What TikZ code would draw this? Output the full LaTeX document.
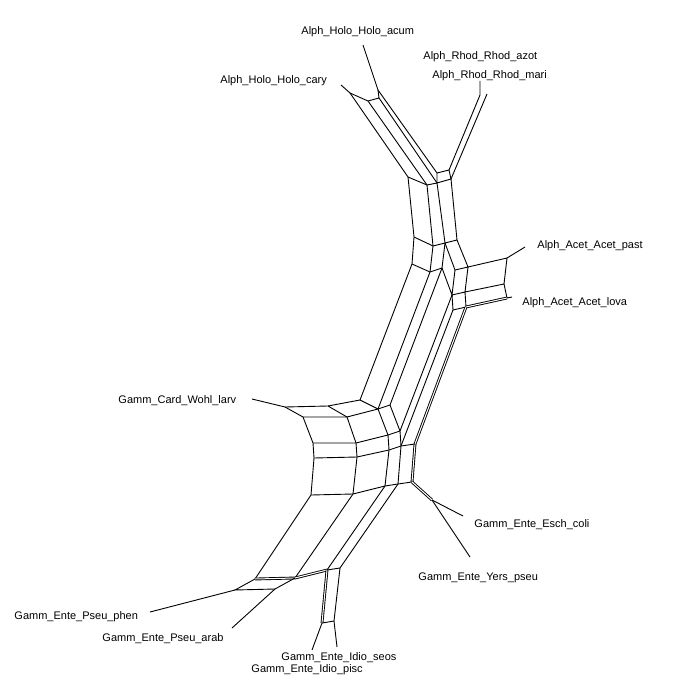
\documentclass[tikz,border=0pt]{standalone}
\usepackage{fontspec}
\setmainfont{Liberation Sans}
\usepackage{tikz}
\tikzset{>=latex}

\begin{document}
\begin{tikzpicture}[x=1pt,y=-1pt,line width=.9pt]
      \tikzstyle{taxon}=[anchor=base west,inner sep=0pt,font=\fontsize{11}{13}\selectfont];
      \tikzstyle{thinsplit}=[double,double distance=1pt];
      \useasboundingbox (0,0) rectangle (676,700);
      % holo box at the top
      \coordinate (t0) at (350,93);  \coordinate (t1) at (368,101);
      \coordinate (t2) at (379,98);  \coordinate (t3) at (378,90);
      \coordinate (a1) at (408,177); \coordinate (a2) at (427,185);
      \coordinate (a3) at (437,183); \coordinate (a4) at (437,173);
      \coordinate (a5) at (449,170); \coordinate (a6) at (451,179);
      \coordinate (r1) at (480,95);
      \coordinate (b1) at (414,237); \coordinate (b2) at (433,246);
      \coordinate (b3) at (445,243); \coordinate (b4) at (457,240);
      \coordinate (c1) at (412,264); \coordinate (c2) at (430,272);
      \coordinate (c3) at (442,268); \coordinate (c4) at (455,270);
      \coordinate (c5) at (468,267);
      \coordinate (d1) at (452,295); \coordinate (d2) at (465,292);
      \coordinate (f1) at (453,310); \coordinate (e1) at (466,307);
      \coordinate (ac1) at (507,258); \coordinate (ac2) at (504,284);
      \coordinate (ac3) at (507,298);
      % wohl box
      \coordinate (w1) at (285,407); \coordinate (w2) at (303,417);
      \coordinate (w3) at (328,406); \coordinate (w4) at (347,417);
      \coordinate (w5) at (360,400); \coordinate (w6) at (378,409);
      \coordinate (x1) at (390,405);
      \coordinate (y1) at (313,443); \coordinate (y2) at (356,443);
      \coordinate (y3) at (388,435); \coordinate (y4) at (400,431);
      \coordinate (z1) at (314,458); \coordinate (z2) at (357,457);
      \coordinate (z3) at (389,450); \coordinate (z4) at (401,446);
      \coordinate (z5) at (415,444);
      \coordinate (v1) at (311,495); \coordinate (v2) at (353,494);
      \coordinate (v3) at (385,486); \coordinate (v4) at (398,484);
      \coordinate (v5) at (412,482);
      \coordinate (ey) at (432,500);
      % pseu and idio boxes
      \coordinate (p1) at (255,579); \coordinate (p2) at (295,578);
      \coordinate (p3) at (235,590); \coordinate (p4) at (275,589);
      \coordinate (i1) at (327,570); \coordinate (i2) at (340,568);
      \coordinate (i3) at (322,623); \coordinate (i4) at (334,621);
      % leaf ends
      \coordinate (ecary) at (341,85);  \coordinate (eacum) at (363,45);
      \coordinate (eazot) at (480,81);  \coordinate (emari) at (487,94);
      \coordinate (epast) at (525,247); \coordinate (elova) at (512,297);
      \coordinate (ewohl) at (252,399); \coordinate (eesch) at (463,516);
      \coordinate (eyers) at (470,557); \coordinate (ephen) at (150,612);
      \coordinate (earab) at (232,628); \coordinate (episc) at (312,650);
      \coordinate (eseos) at (337,647);

      \node[taxon] (acum) at (301,35) {Alph\_Holo\_Holo\_acum};
      \node[taxon] (azot) at (423,60) {Alph\_Rhod\_Rhod\_azot};
      \node[taxon] (mari) at (432,79) {Alph\_Rhod\_Rhod\_mari};
      \node[taxon] (cary) at (220,84) {Alph\_Holo\_Holo\_cary};
      \node[taxon] (past) at (537,248) {Alph\_Acet\_Acet\_past};
      \node[taxon] (lova) at (522,305) {Alph\_Acet\_Acet\_lova};
      \node[taxon] (wohl) at (118,403) {Gamm\_Card\_Wohl\_larv};
      \node[taxon] (esch) at (474,527) {Gamm\_Ente\_Esch\_coli};
      \node[taxon] (yers) at (418,580) {Gamm\_Ente\_Yers\_pseu};
      \node[taxon] (phen) at (14,619) {Gamm\_Ente\_Pseu\_phen};
      \node[taxon] (arab) at (102,641) {Gamm\_Ente\_Pseu\_arab};
      \node[taxon] (seos) at (281,660) {Gamm\_Ente\_Idio\_seos};
      \node[taxon] (pisc) at (251,672) {Gamm\_Ente\_Idio\_pisc};

      \draw (ecary) -- (t0) -- (t1) -- (t2) -- (t3) -- (eacum);
      \draw (t0) -- (a1) -- (b1) -- (c1) -- (w5) -- (w3) -- (w1) -- (ewohl);
      \draw (t1) -- (a2) -- (b2) -- (c2) -- (w6) -- (w4) -- (w2) -- (w1);
      \draw (t2) -- (a3) -- (b3) -- (c3) -- (x1) -- (y4) -- (z4) -- (v4) -- (i2) -- (i4) -- (eseos);
      \draw (t3) -- (a4) -- (a5) -- (a6) -- (a3) -- (a4);
      \draw (a1) -- (a2) -- (a3);
      \draw (a6) -- (b4) -- (b3) -- (b2) -- (b1);
      \draw (c1) -- (c2) -- (c3);
      \draw (a5) -- (r1) -- (eazot);
      \draw (a6) -- (emari);
      % acet box
      \draw (b3) -- (c4) -- (c5) -- (b4);
      \draw (c4) -- (d1) -- (c3);
      \draw (c5) -- (ac1) -- (ac2) -- (d2) -- (c5);
      \draw (d1) -- (d2) -- (e1) -- (f1) -- (d1);
      \draw (ac2) -- (ac3) -- (elova);
      \draw (ac1) -- (epast);
      \draw[thinsplit] (e1) -- (ac3);
      % down to the wohl box
      \draw (w3) -- (w4);
      \draw (w5) -- (w6) -- (x1);
      \draw (w6) -- (y3) -- (y4);
      \draw (d1) -- (y4);
      \draw (f1) -- (z4);
      \draw[thinsplit] (e1) -- (z5) -- (v5);
      \draw (w2) -- (y1) -- (z1) -- (v1) -- (p1);
      \draw (w4) -- (y2) -- (z2) -- (v2) -- (p2);
      \draw (y1) -- (y2) -- (y3);
      \draw (z1) -- (z2) -- (z3) -- (z4) -- (z5);
      \draw (y3) -- (z3) -- (v3) -- (i1);
      \draw (v1) -- (v2) -- (v3) -- (v4) -- (v5);
      \draw[thinsplit] (v5) -- (ey);
      \draw (ey) -- (eesch);
      \draw (ey) -- (eyers);
      % pseu and idio
      \draw[thinsplit] (p1) -- (p2) -- (i1);
      \draw (p1) -- (p3) -- (p4) -- (p2);
      \draw (p3) -- (ephen);
      \draw (p4) -- (earab);
      \draw[thinsplit] (i1) -- (i3);
      \draw (i1) -- (i2);
      \draw (i3) -- (i4);
      \draw (i3) -- (episc);
    \end{tikzpicture}
\end{document}
